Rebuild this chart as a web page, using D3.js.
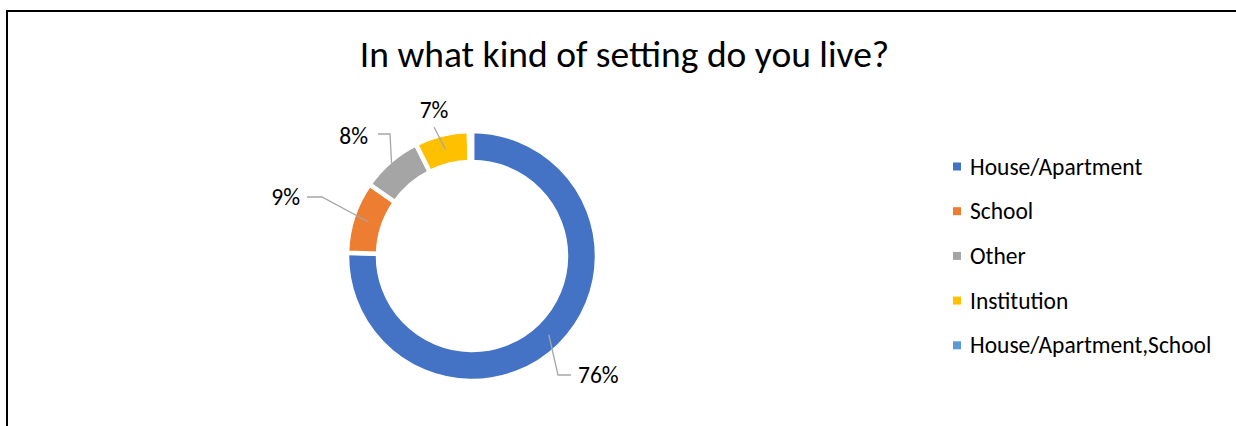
<!DOCTYPE html>
<html>
<head>
<meta charset="utf-8">
<script src="https://cdn.jsdelivr.net/npm/d3@7"></script>
<style>
  html, body { margin: 0; padding: 0; background: #ffffff; }
  svg { display: block; font-family: Calibri, Carlito, Lato, sans-serif; }
</style>
</head>
<body>
<div id="container"></div>
<script>
/* DATA */
const categories = ["House/Apartment", "School", "Other", "Institution", "House/Apartment,School"];
const shares = [75.4, 9.3, 7.9, 7.0, 0.4];
const labelTexts = ["76%", "9%", "8%", "7%", ""];
const colors = ["#4472c4", "#ed7d31", "#a5a5a5", "#ffc000", "#5b9bd5"];

/* CONSTANTS */
const width = 1236,
  height = 426,
  cx = 472,
  cy = 256,
  outerR = 125,
  innerR = 94;

// label placement, offsets from the donut centre (layout only)
const labelLayout = [
  { dx: 106, dy: 119, anchor: "start", startR: 110, elbow: [86, 119], end: [99, 119] },
  { dx: -172, dy: -59, anchor: "end", startR: 109, elbow: [-150, -59], end: [-165, -59] },
  { dx: -104, dy: -120, anchor: "end", startR: 123, elbow: [-82, -122], end: [-94, -122] },
  { dx: -38, dy: -146, anchor: "middle", startR: 110, elbow: null, end: [-38, -129] },
  null
];

const svg = d3.select("#container")
  .append("svg")
  .attr("width", width)
  .attr("height", height);

// chart border
svg.append("rect")
  .attr("x", 7)
  .attr("y", 11)
  .attr("width", width + 20)
  .attr("height", height + 20)
  .attr("fill", "none")
  .attr("stroke", "#000")
  .attr("stroke-width", 2);

// title
svg.append("text")
  .attr("x", 624.5)
  .attr("y", 67)
  .attr("text-anchor", "middle")
  .attr("font-size", 37.5)
  .attr("fill", "#000")
  .text("In what kind of setting do you live?");

/* PIE */
const pie = d3.pie().sort(null).value(d => d);
const arcs = pie(shares);

const arc = d3.arc().innerRadius(innerR).outerRadius(outerR);

const g = svg.append("g").attr("transform", `translate(${cx},${cy})`);

g.selectAll("path.slice")
  .data(arcs)
  .join("path")
  .attr("class", "slice")
  .attr("d", arc)
  .attr("fill", (d, i) => colors[i])
  .attr("stroke", "#fff")
  .attr("stroke-width", 4.5);

// leader lines + labels
arcs.forEach((d, i) => {
  const lay = labelLayout[i];
  if (!lay || !labelTexts[i]) return;
  const r = lay.startR;
  const start = d3.arc().innerRadius(r).outerRadius(r).centroid(d);
  const pts = [start];
  if (lay.elbow) pts.push(lay.elbow);
  pts.push(lay.end);
  g.append("path")
    .attr("d", d3.line()(pts))
    .attr("fill", "none")
    .attr("stroke", "#a6a6a6")
    .attr("stroke-width", 1.3);
  g.append("text")
    .attr("x", lay.dx)
    .attr("y", lay.dy)
    .attr("text-anchor", lay.anchor)
    .attr("dominant-baseline", "central")
    .attr("font-size", 23.5)
    .attr("fill", "#000")
    .text(labelTexts[i]);
});

/* LEGEND */
const legend = svg.append("g").attr("transform", "translate(953,166.5)");
const rowStep = 44.7;

const rows = legend.selectAll("g.row")
  .data(categories)
  .join("g")
  .attr("class", "row")
  .attr("transform", (d, i) => `translate(0,${i * rowStep})`);

rows.append("rect")
  .attr("x", 0)
  .attr("y", -4)
  .attr("width", 8)
  .attr("height", 8)
  .attr("fill", (d, i) => colors[i]);

rows.append("text")
  .attr("x", 17)
  .attr("y", 0)
  .attr("dominant-baseline", "central")
  .attr("font-size", 23.5)
  .attr("fill", "#000")
  .text(d => d);
</script>
</body>
</html>
